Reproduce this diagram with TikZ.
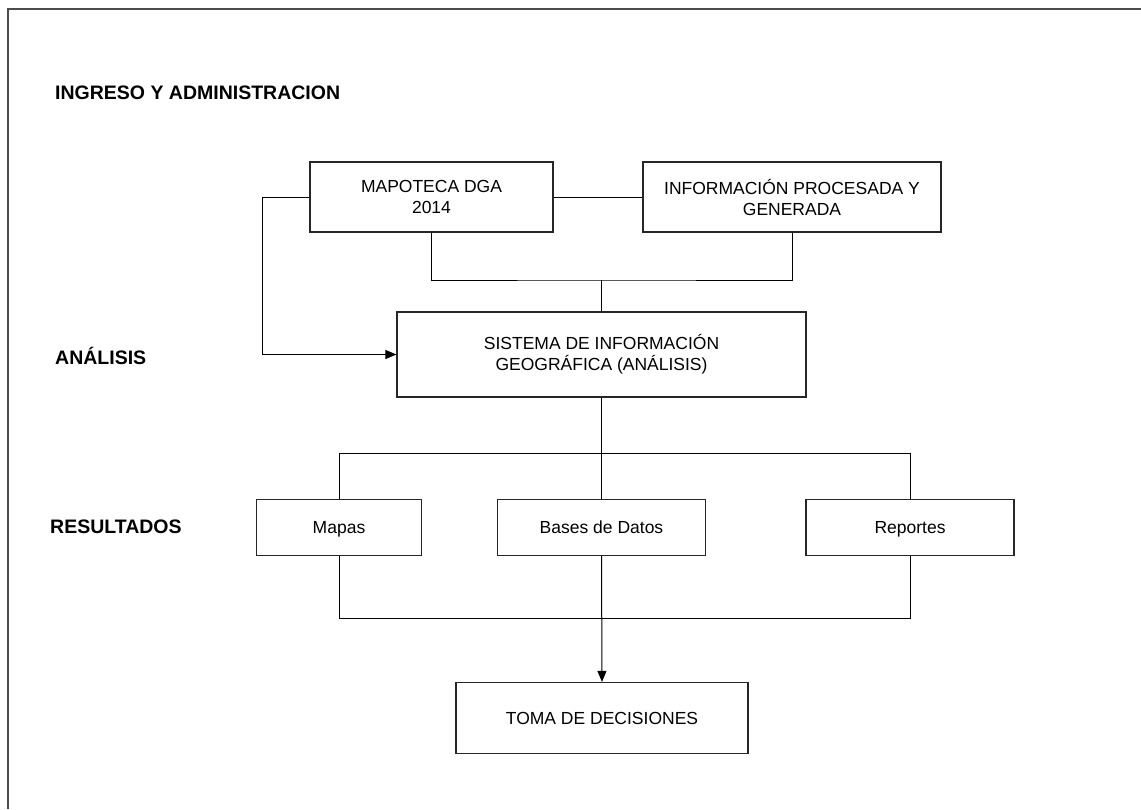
\documentclass[tikz,border=0pt]{standalone}
\usepackage{fontspec}
\setmainfont{Liberation Sans}
\usetikzlibrary{arrows.meta}
\begin{document}
\begin{tikzpicture}[x=1pt,y=-1pt,
  box/.style={draw=black!85, line width=1.2pt, inner sep=0pt, align=center,
    font=\fontsize{17.5}{21}\selectfont},
  one/.style={text height=12.5pt, text depth=0pt},
  lbl/.style={anchor=base west, inner sep=0pt, font=\fontsize{19.5}{22}\selectfont\bfseries},
  conn/.style={draw=black, line width=1pt},
  tip/.style={-{Triangle[length=11pt,width=9pt]}}]
\useasboundingbox (0,0) rectangle (1141,809);
\draw[line width=1.5pt, black!70] (8,809) -- (8,9) -- (1141,9);

\node[lbl] (l1) at (55,99.5) {INGRESO Y ADMINISTRACION};
\node[lbl] (l2) at (55,364) {ANÁLISIS};
\node[lbl] (l3) at (50,533) {RESULTADOS};

\node[box, minimum width=243pt, minimum height=70pt] (map) at (431.5,197) {MAPOTECA DGA\\2014};
\node[box, minimum width=298pt, minimum height=70pt] (info) at (792,197) {INFORMACIÓN PROCESADA Y\\GENERADA};
\node[box, minimum width=409pt, minimum height=85pt] (sig) at (601.5,354.5) {SISTEMA DE INFORMACIÓN\\GEOGRÁFICA (ANÁLISIS)};
\node[box, one, minimum width=165pt, minimum height=56pt] (mapas) at (339,527.5) {Mapas};
\node[box, one, minimum width=208pt, minimum height=56pt] (bases) at (601.5,527.5) {Bases de Datos};
\node[box, one, minimum width=208pt, minimum height=56pt] (rep) at (910,527.5) {Reportes};
\node[box, one, minimum width=292pt, minimum height=71pt] (toma) at (602,718) {TOMA DE DECISIONES};

\coordinate (j1) at (601.5,280);
\coordinate (j2) at (601.5,453.5);
\coordinate (j3) at (601.5,618.5);

\draw[conn] (map.east) -- (info.west);
\draw[conn] (map.south) |- (j1) -| (info.south);
\draw[conn] (j1) -- (sig.north);
\draw[conn,tip] (map.west) -- ++(-47,0) |- (sig.west);
\draw[conn] (sig.south) -- (j2);
\draw[conn] (mapas.north) |- (j2) -| (rep.north);
\draw[conn] (j2) -- (bases.north);
\draw[conn] (mapas.south) |- (j3) -| (rep.south);
\draw[conn,tip] (bases.south) -- (toma.north);
\end{tikzpicture}
\end{document}
